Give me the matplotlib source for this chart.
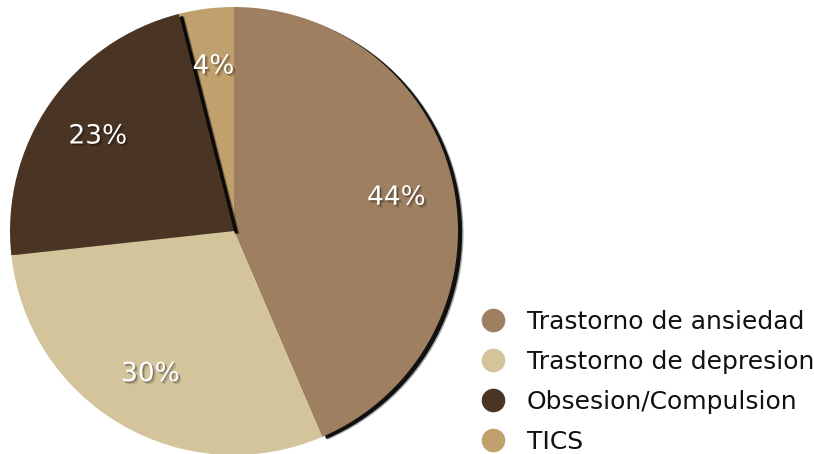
import matplotlib
matplotlib.use('Agg')
import matplotlib.pyplot as plt
import matplotlib.patheffects as pe
from matplotlib.lines import Line2D

categories = ['Trastorno de ansiedad', 'Trastorno de depresion', 'Obsesion/Compulsion', 'TICS']
values = [44, 30, 23, 4]
colors = ['#9e7f60', '#d3c49c', '#4a3525', '#c0a06c']

plt.rcParams['font.family'] = ['DejaVu Sans']

W, H, DPI = 814, 454, 100
fig = plt.figure(figsize=(W / DPI, H / DPI), dpi=DPI)
fig.patch.set_facecolor('white')

# pie centre and radius in pixels
cx, cy, r = 234, 231, 224
ax = fig.add_axes([(cx - r) / W, (H - cy - r) / H, 2 * r / W, 2 * r / H])

wedges, texts, autotexts = ax.pie(
    values, colors=colors, startangle=90, counterclock=False,
    labels=None, autopct='', pctdistance=0.74,
    wedgeprops=dict(linewidth=0))

# percentage labels taken from the values themselves
for t, v in zip(autotexts, values):
    t.set_text(f'{v}%')
    t.set_color('white')
    t.set_fontsize(19)
    t.set_path_effects([
        pe.SimplePatchShadow(offset=(2, -2), shadow_rgbFace='black', alpha=0.15),
        pe.SimplePatchShadow(offset=(1, -1), shadow_rgbFace='black', alpha=0.3),
        pe.Normal()])
    t.set_zorder(5)

# dark drop shadow on the right-hand edges
for i in (0, 2):
    wedges[i].set_path_effects([
        pe.SimplePatchShadow(offset=(4, -2), shadow_rgbFace='black', alpha=0.35),
        pe.SimplePatchShadow(offset=(3, -1.5), shadow_rgbFace='black', alpha=0.9),
        pe.Normal()])
    wedges[i].set_clip_on(False)
for w, z in zip(wedges, [1, 3, 2, 0]):
    w.set_zorder(z)

ax.set_xlim(-1, 1)
ax.set_ylim(-1, 1)
ax.set_aspect('auto')
ax.axis('off')

handles = [Line2D([], [], marker='o', linestyle='none', markersize=17,
                  markerfacecolor=c, markeredgewidth=0) for c in colors]
fig.legend(handles, categories, loc='upper left', bbox_to_anchor=(478 / W, 1 - 310 / H),
           frameon=False, fontsize=18, labelspacing=0.64,
           handletextpad=0.75, handlelength=1.2, labelcolor='#111111',
           borderaxespad=0, borderpad=0)

fig.savefig('out.png', dpi=DPI, facecolor='white')
